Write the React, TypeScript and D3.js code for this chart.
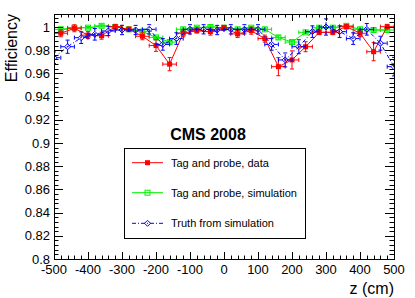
import React, { useEffect } from 'react';
import * as d3 from 'd3';

// ---- data ----
const binZ = [-480, -440, -400, -360, -320, -280, -240, -200, -160, -120, -80, -40, 0, 40, 80, 120, 160, 200, 240, 280, 320, 360, 400, 440, 480];
const dataEff = [0.9946, 0.9989, 0.993, 0.9925, 1.0003, 0.998, 0.992, 0.984, 0.968, 0.9946, 0.9968, 0.996, 0.9994, 0.994, 0.9968, 0.99, 0.9658, 0.9716, 0.983, 0.9954, 0.9954, 1.0003, 0.9946, 0.9787, 1.0003];
const dataErr = [0.003, 0.003, 0.003, 0.003, 0.002, 0.002, 0.003, 0.005, 0.0057, 0.003, 0.002, 0.003, 0.002, 0.003, 0.003, 0.003, 0.0078, 0.0078, 0.0043, 0.002, 0.002, 0.002, 0.003, 0.0078, 0.002];
const simEff = [0.998, 0.9994, 0.9994, 1.001, 1.0, 0.998, 0.996, 0.991, 0.987, 0.998, 0.9994, 1.0, 0.9994, 0.998, 0.9994, 0.998, 0.991, 0.987, 0.9954, 0.9994, 0.9994, 1.001, 0.998, 0.9974, 0.9974];
const simErr = [0.001, 0.001, 0.001, 0.001, 0.001, 0.001, 0.001, 0.001, 0.0015, 0.001, 0.001, 0.001, 0.001, 0.001, 0.001, 0.001, 0.0015, 0.0015, 0.001, 0.001, 0.001, 0.001, 0.001, 0.001, 0.001];
const truthZ = [-500, -460, -420, -380, -340, -300, -260, -220, -180, -140, -100, -60, -20, 20, 60, 100, 140, 180, 220, 260, 300, 340, 380, 420, 460, 500];
const truthEff = [0.9735, 0.983, 0.9908, 0.9937, 0.9966, 0.9974, 0.9974, 0.998, 0.985, 0.99, 0.998, 0.998, 0.9974, 0.998, 0.998, 0.998, 0.985, 0.9716, 0.983, 0.996, 1.0, 0.996, 0.99, 0.998, 0.986, 0.9658];
const truthErr = [0.005, 0.0057, 0.005, 0.005, 0.004, 0.004, 0.004, 0.004, 0.005, 0.005, 0.004, 0.004, 0.004, 0.004, 0.004, 0.004, 0.005, 0.006, 0.006, 0.005, 0.007, 0.005, 0.005, 0.005, 0.006, 0.008];
const binHalfWidth = 20;

const xTickLabels = ['-500', '-400', '-300', '-200', '-100', '0', '100', '200', '300', '400', '500'];
const yTickLabels = ['0.8', '0.82', '0.84', '0.86', '0.88', '0.9', '0.92', '0.94', '0.96', '0.98', '1'];
const legendLabels = ['Tag and probe, data', 'Tag and probe, simulation', 'Truth from simulation'];

const W = 415, H = 298;
const F = { l: 54, r: 394, t: 14, b: 259 };
const FONT = "'Liberation Sans', Arial, Helvetica, sans-serif";
const GREEN = '#00f000';

const x = d3.scaleLinear().domain([-500, 500]).range([F.l, F.r]);
const y = d3.scaleLinear().domain([0.8, 1.0112]).range([F.b, F.t]);

type Pt = { z: number; v: number; e: number };

function Series({ pts, color, dash, marker }: { pts: Pt[]; color: string; dash?: string; marker: 'fsq' | 'osq' | 'dia' }) {
  const line = d3.line<Pt>().x(d => x(d.z)).y(d => y(d.v));
  const cap = 2;
  return (
    <g clipPath="url(#frameClip)">
      <path d={line(pts) || ''} fill="none" stroke={color} strokeWidth={1} strokeDasharray={dash} />
      {pts.map((d, i) => {
        const cx = x(d.z), cy = y(d.v);
        const x0 = x(d.z - binHalfWidth), x1 = x(d.z + binHalfWidth);
        const y0 = y(d.v - d.e), y1 = y(d.v + d.e);
        return (
          <g key={i} stroke={color} strokeWidth={1} strokeDasharray={dash}>
            <line x1={x0} x2={x1} y1={cy} y2={cy} />
            <line x1={cx} x2={cx} y1={y0} y2={y1} />
            <line x1={x0} x2={x0} y1={cy - cap} y2={cy + cap} strokeDasharray={undefined} />
            <line x1={x1} x2={x1} y1={cy - cap} y2={cy + cap} strokeDasharray={undefined} />
            <line x1={cx - cap} x2={cx + cap} y1={y0} y2={y0} strokeDasharray={undefined} />
            <line x1={cx - cap} x2={cx + cap} y1={y1} y2={y1} strokeDasharray={undefined} />
          </g>
        );
      })}
      {pts.map((d, i) => <Marker key={'m' + i} cx={x(d.z)} cy={y(d.v)} color={color} kind={marker} />)}
    </g>
  );
}

function Marker({ cx, cy, color, kind }: { cx: number; cy: number; color: string; kind: string }) {
  if (kind === 'fsq') return <rect x={cx - 2.5} y={cy - 2.5} width={5} height={5} fill={color} />;
  if (kind === 'osq') return <rect x={cx - 2.5} y={cy - 2.5} width={5} height={5} fill="none" stroke={color} strokeWidth={1} />;
  return <path d={`M${cx},${cy - 3}L${cx + 3},${cy}L${cx},${cy + 3}L${cx - 3},${cy}Z`} fill="none" stroke={color} strokeWidth={1} />;
}

export default function App() {
  useEffect(() => { document.body.style.margin = '0'; }, []);
  const dataPts: Pt[] = binZ.map((z, i) => ({ z, v: dataEff[i], e: dataErr[i] }));
  const simPts: Pt[] = binZ.map((z, i) => ({ z, v: simEff[i], e: simErr[i] }));
  const truthPts: Pt[] = truthZ.map((z, i) => ({ z, v: truthEff[i], e: truthErr[i] }));

  const xMajor = x.ticks(10);
  const xMinor = d3.range(0, 51).map(i => -500 + i * 20);
  const yMajor = d3.range(0, 11).map(i => 0.8 + i * 0.02);
  const yMinor = d3.range(0, 53).map(i => 0.8 + i * 0.004).filter(v => v <= 1.0112);

  const xMaj = 7, xMin = 3.5, yMaj = 9, yMin = 4.5;

  const legendRows = [
    { label: legendLabels[0], color: '#ff0000', dash: undefined, marker: 'fsq' },
    { label: legendLabels[1], color: GREEN, dash: undefined, marker: 'osq' },
    { label: legendLabels[2], color: '#0000ff', dash: '4,2,1,2', marker: 'dia' },
  ];
  const legendY = [162.7, 192.7, 223.3];

  return (
    <svg width={W} height={H} style={{ display: 'block', background: '#fff' }} fontFamily={FONT}>
      <defs>
        <clipPath id="frameClip"><rect x={F.l} y={F.t} width={F.r - F.l} height={F.b - F.t} /></clipPath>
      </defs>
      <rect x={0} y={0} width={W} height={H} fill="#fff" />

      {/* series */}
      <Series pts={simPts} color={GREEN} marker="osq" />
      <Series pts={dataPts} color="#ff0000" marker="fsq" />
      <Series pts={truthPts} color="#0000ff" dash="4,2,1,2" marker="dia" />

      {/* ticks */}
      <g stroke="#000" strokeWidth={1}>
        {xMinor.map((v, i) => {
          const px = Math.round(x(v)) + 0.5;
          const len = xMajor.includes(v) ? xMaj : xMin;
          return (
            <g key={'xt' + i}>
              <line x1={px} x2={px} y1={F.b} y2={F.b - len} />
              <line x1={px} x2={px} y1={F.t} y2={F.t + len} />
            </g>
          );
        })}
        {yMinor.map((v, i) => {
          const py = Math.round(y(v)) + 0.5;
          const isMaj = yMajor.some(m => Math.abs(m - v) < 1e-9);
          const len = isMaj ? yMaj : yMin;
          return (
            <g key={'yt' + i}>
              <line x1={F.l} x2={F.l + len} y1={py} y2={py} />
              <line x1={F.r} x2={F.r - len} y1={py} y2={py} />
            </g>
          );
        })}
      </g>
      <rect x={F.l + 0.5} y={F.t + 0.5} width={F.r - F.l} height={F.b - F.t} fill="none" stroke="#000" strokeWidth={1} />

      {/* tick labels */}
      <g fontSize={13} fill="#000">
        {xMajor.map((v, i) => (
          <text key={'xl' + i} x={x(v)} y={274} textAnchor="middle">{xTickLabels[i]}</text>
        ))}
        {yMajor.map((v, i) => (
          <text key={'yl' + i} x={50} y={y(v)} dy="0.35em" textAnchor="end">{yTickLabels[i]}</text>
        ))}
      </g>

      {/* axis titles */}
      <text x={F.r} y={294} fontSize={16} textAnchor="end">z (cm)</text>
      <text transform={`translate(17,${F.t}) rotate(-90)`} fontSize={16} textAnchor="end">Efficiency</text>

      {/* CMS label */}
      <text x={208} y={140} fontSize={16} fontWeight="bold" textAnchor="middle">CMS 2008</text>

      {/* legend */}
      <rect x={124.5} y={148.5} width={181} height={90} fill="#fff" stroke="#000" strokeWidth={1} />
      {legendRows.map((r, i) => (
        <g key={'lg' + i}>
          <line x1={132} x2={163} y1={legendY[i]} y2={legendY[i]} stroke={r.color} strokeWidth={1} strokeDasharray={r.dash} />
          <Marker cx={147.5} cy={legendY[i]} color={r.color} kind={r.marker} />
          <text x={171} y={legendY[i]} dy="0.35em" fontSize={11} fill="#000">{r.label}</text>
        </g>
      ))}
    </svg>
  );
}
